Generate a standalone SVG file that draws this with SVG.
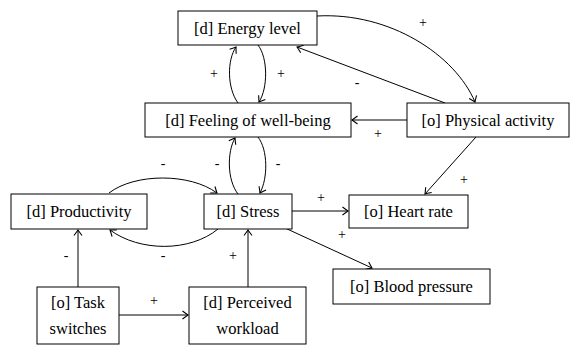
<svg xmlns="http://www.w3.org/2000/svg" width="571" height="345" viewBox="0 0 571 345" font-family="Liberation Serif, Tinos, Times New Roman, DejaVu Serif, Noto Serif, serif">
<style>
.box{fill:#fff;stroke:#000;stroke-width:1}
text{fill:#000;text-anchor:middle}
.t{font-size:16.5px}
.l{font-size:14px}
.e{fill:none;stroke:#000;stroke-width:1;marker-end:url(#ah)}
</style>
<defs>
<marker id="ah" viewBox="-6 -5 8 10" refX="0" refY="0" markerWidth="8" markerHeight="10" markerUnits="userSpaceOnUse" orient="auto">
<path d="M-5.5,-4 Q-1.5,-1 0,0 Q-1.5,1 -5.5,4" fill="none" stroke="#000" stroke-width="1.1"/>
</marker>
</defs>
<g id="connectors">
<path class="e" d="M317,16 C390,12 455,55 475,102"/>
<path class="e" d="M445,103 L297,47"/>
<path class="e" d="M238,103 C227,88 227,60 236,47"/>
<path class="e" d="M258,45 C268,58 268,88 259,102"/>
<path class="e" d="M407,120 L352,120"/>
<path class="e" d="M238,194 C227,180 227,152 235,138"/>
<path class="e" d="M258,137 C268,150 268,178 260,193"/>
<path class="e" d="M109,193 C135,173 190,173 217,193"/>
<path class="e" d="M218,229 C190,252 140,252 110,230"/>
<path class="e" d="M292,211 L348,211"/>
<path class="e" d="M476,137 L425,194"/>
<path class="e" d="M285,228 L372,268"/>
<path class="e" d="M78,287 L78,230"/>
<path class="e" d="M248,287 L248,230"/>
<path class="e" d="M119,315 L188,315"/>
</g>
<g id="labels">
<text class="l" x="423" y="27">+</text>
<text class="l" x="357" y="87">-</text>
<text class="l" x="214" y="78">+</text>
<text class="l" x="281" y="78">+</text>
<text class="l" x="378" y="138">+</text>
<text class="l" x="464" y="184">+</text>
<text class="l" x="163" y="168">-</text>
<text class="l" x="217" y="168">-</text>
<text class="l" x="278" y="168">-</text>
<text class="l" x="66" y="260">-</text>
<text class="l" x="163" y="260">-</text>
<text class="l" x="233" y="260">+</text>
<text class="l" x="154" y="305">+</text>
<text class="l" x="321" y="202">+</text>
<text class="l" x="342" y="239">+</text>
</g>
<g id="energy"><rect class="box" x="178" y="11" width="139" height="34"/><text class="t" x="247.5" y="34">[d] Energy level</text></g>
<g id="wellbeing"><rect class="box" x="145" y="103" width="206" height="34"/><text class="t" x="248" y="126">[d] Feeling of well-being</text></g>
<g id="physical"><rect class="box" x="407" y="103" width="162" height="34"/><text class="t" x="488" y="126">[o] Physical activity</text></g>
<g id="productivity"><rect class="box" x="11" y="194" width="136" height="35"/><text class="t" x="79" y="217">[d] Productivity</text></g>
<g id="stress"><rect class="box" x="204" y="194" width="88" height="35"/><text class="t" x="248" y="217">[d] Stress</text></g>
<g id="heartrate"><rect class="box" x="349" y="195" width="119" height="33"/><text class="t" x="408.5" y="217">[o] Heart rate</text></g>
<g id="bloodpressure"><rect class="box" x="333" y="269" width="157" height="35"/><text class="t" x="411.5" y="292">[o] Blood pressure</text></g>
<g id="taskswitches"><rect class="box" x="37" y="287" width="82" height="57"/><text class="t" x="78" y="308">[o] Task</text><text class="t" x="78" y="334">switches</text></g>
<g id="workload"><rect class="box" x="189" y="287" width="117" height="57"/><text class="t" x="247.5" y="308">[d] Perceived</text><text class="t" x="247.5" y="334">workload</text></g>
</svg>
